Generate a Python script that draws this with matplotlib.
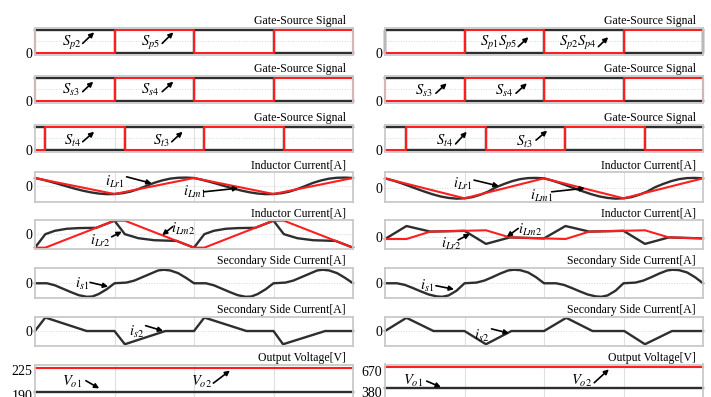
import matplotlib
matplotlib.use('Agg')
from matplotlib import pyplot as plt

plt.rcParams['font.family'] = ['Liberation Serif', 'DejaVu Serif']
plt.rcParams['mathtext.fontset'] = 'stix'

PRETO = '#2e2e2e'
VERMELHO = '#ff1e1e'
CINZA = '#c9c9c9'

# ---------------- DADOS ----------------
# sinais de gate, 0/1
gate_t = [0, 0, 1, 1, 2, 2, 3, 3, 4, 4]
sp2_L = [1, 1, 1, 0, 0, 1, 1, 0, 0, 0]
sp5_L = [1, 0, 0, 1, 1, 0, 0, 1, 1, 0]
sp15_R = [0, 0, 0, 1, 1, 0, 0, 1, 1, 1]
sp24_R = [0, 1, 1, 0, 0, 1, 1, 0, 0, 1]
ss3 = [1, 1, 1, 0, 0, 1, 1, 0, 0, 0]
ss4 = [1, 0, 0, 1, 1, 0, 0, 1, 1, 0]

st_t_L = [0, 0.13, 0.13, 1.13, 1.13, 2.13, 2.13, 3.13, 3.13, 4]
st_t_R = [0, 0.27, 0.27, 1.27, 1.27, 2.27, 2.27, 3.27, 3.27, 4]
st3 = [1, 1, 0, 0, 1, 1, 0, 0, 1, 1]
st4 = [0, 0, 1, 1, 0, 0, 1, 1, 0, 0]

# corrente de magnetização / ressonante (primário)
ilm1_t = [0, 1, 2, 3, 4]
ilm1_L = [1, -1, 1, -1, 1]
ilm1_R = [1.25, -1.25, 1.25, -1.25, 1.25]
ilr1_t = [0, 0.1, 0.2, 0.3, 0.4, 0.5, 0.6, 0.7, 0.8, 0.9, 1.0,
          1.1, 1.2, 1.3, 1.4, 1.5, 1.6, 1.7, 1.8, 1.9, 2.0,
          2.1, 2.2, 2.3, 2.4, 2.5, 2.6, 2.7, 2.8, 2.9, 3.0,
          3.1, 3.2, 3.3, 3.4, 3.5, 3.6, 3.7, 3.8, 3.9, 4.0]
ilr1_L = [1.0, 0.78, 0.52, 0.24, -0.05, -0.33, -0.58, -0.79, -0.94, -1.02, -1.0,
          -0.9, -0.7, -0.38, 0.0, 0.4, 0.7, 0.92, 1.03, 1.05, 1.0,
          0.78, 0.52, 0.24, -0.05, -0.33, -0.58, -0.79, -0.94, -1.02, -1.0,
          -0.9, -0.7, -0.38, 0.0, 0.4, 0.7, 0.92, 1.03, 1.05, 1.0]
ilr1_R = [1.25, 0.98, 0.66, 0.3, -0.07, -0.42, -0.75, -1.02, -1.2, -1.29, -1.25,
          -1.1, -0.8, -0.4, 0.15, 0.55, 0.9, 1.15, 1.28, 1.3, 1.25,
          0.98, 0.66, 0.3, -0.07, -0.42, -0.75, -1.02, -1.2, -1.29, -1.25,
          -1.1, -0.8, -0.4, 0.15, 0.55, 0.9, 1.15, 1.28, 1.3, 1.25]

# lado 2
ilm2_t_L = [0, 0.13, 1.0, 1.13, 2.0, 2.13, 3.0, 3.13, 4.0]
ilm2_L = [-1, -1, 1, 1, -1, -1, 1, 1, -1]
ilr2_t_L = [0, 0.13, 0.25, 0.4, 0.55, 0.77, 1.0, 1.13, 1.3, 1.5, 1.78, 2.0,
            2.13, 2.25, 2.4, 2.55, 2.77, 3.0, 3.13, 3.3, 3.5, 3.78, 4.0]
ilr2_L = [-1, 0.0, 0.25, 0.4, 0.45, 0.47, 1.0, 0.0, -0.3, -0.45, -0.5, -1.0,
          0.0, 0.25, 0.4, 0.45, 0.47, 1.0, 0.0, -0.3, -0.45, -0.5, -1.0]
ilm2_t_R = [0, 0.27, 0.57, 1.27, 1.57, 2.27, 2.57, 3.27, 3.57, 4.0]
ilm2_R = [-0.3, -0.3, 0.66, 0.83, -0.09, -0.3, 0.66, 0.83, -0.09, -0.22]
ilr2_t_R = [0, 0.27, 0.57, 1.0, 1.27, 1.57, 2.0, 2.27, 2.57, 3.0, 3.27, 3.57, 4.0]
ilr2_R = [-0.3, 1.38, 0.66, 0.76, -0.93, -0.09, -0.22, 1.38, 0.66, 0.76, -0.93, -0.09, -0.22]

# secundário
is1_t = [0, 0.15, 0.25, 0.35, 0.45, 0.55, 0.65, 0.72, 0.8, 0.9, 1.0,
         1.15, 1.25, 1.35, 1.45, 1.55, 1.62, 1.7, 1.8, 1.9, 2.0,
         2.15, 2.25, 2.35, 2.45, 2.55, 2.65, 2.72, 2.8, 2.9, 3.0,
         3.15, 3.25, 3.35, 3.45, 3.55, 3.62, 3.7, 3.8, 3.9, 4.0]
is1_L = [0, 0, -0.15, -0.4, -0.65, -0.88, -1.0, -0.98, -0.8, -0.45, 0,
         0.05, 0.2, 0.45, 0.7, 0.95, 1.0, 0.95, 0.75, 0.4, 0,
         0, -0.15, -0.4, -0.65, -0.88, -1.0, -0.98, -0.8, -0.45, 0,
         0.05, 0.2, 0.45, 0.7, 0.95, 1.0, 0.95, 0.75, 0.4, 0]
is1_R = [0, 0, -0.12, -0.35, -0.6, -0.83, -0.97, -1.0, -0.9, -0.55, 0,
         0.05, 0.2, 0.45, 0.72, 0.95, 1.0, 0.97, 0.8, 0.45, 0,
         0, -0.12, -0.35, -0.6, -0.83, -0.97, -1.0, -0.9, -0.55, 0,
         0.05, 0.2, 0.45, 0.72, 0.95, 1.0, 0.97, 0.8, 0.45, 0]
is2_t_L = [0, 0.13, 0.65, 1.0, 1.13, 1.64, 2.0, 2.13, 2.66, 3.0, 3.12, 3.65, 4.0]
is2_L = [0, 1.0, 0, 0, -0.98, 0, 0, 1.0, 0, 0, -0.98, 0, 0]
is2_t_R = [0, 0.27, 0.61, 1.0, 1.27, 1.59, 2.0, 2.28, 2.61, 3.01, 3.27, 3.61, 4.0]
is2_R = [0, 0.98, 0, 0, -0.98, 0, 0, 0.98, 0, 0, -0.98, 0, 0]

# tensão de saída
vo_t = [0, 4]
vo1_L = [193.5, 193.5]
vo2_L = [228, 228]
vo1_R = [433, 433]
vo2_R = [712, 712]
vo_ticks_L = [190, 225]
vo_ticks_R = [380, 670]

# ---------------- LAYOUT ----------------
W, H = 711, 397
COLS = [35, 385]
LARG = 318
ROWS = [(28, 55), (76, 103), (125, 152), (172, 202),
        (220, 249), (268, 298), (317, 346), (364.5, 405)]

fig = plt.figure(figsize=(W / 100, H / 100), dpi=100)


def criaEixo(col, lin, titulo, ylim, yticks=(0,), ygrid=None):
    topo, base = ROWS[lin]
    ax = fig.add_axes([COLS[col] / W, 1 - base / H, LARG / W, (base - topo) / H])
    ax.set_xlim(0, 4)
    ax.set_ylim(*ylim)
    ax.set_xticks([1, 2, 3])
    ax.set_xticklabels([])
    ax.set_yticks(list(yticks))
    ax.set_yticklabels([str(v) for v in yticks])
    ax.tick_params(length=0, pad=2, labelsize=10)
    ax.grid(axis='x', color='#e0e0e0', lw=0.8)
    if ygrid is not None:
        ax.axhline(ygrid, color='#d8d8d8', lw=0.7, ls=':', zorder=0)
    for s in ax.spines.values():
        s.set_color(CINZA)
        s.set_linewidth(1.3)
    ax.text(1 - 7 / LARG, 1 + 4 / (base - topo), titulo, transform=ax.transAxes,
            ha='right', va='baseline', fontsize=8.5)
    return ax


def seta(ax, texto, ptexto, cauda, cabeca):
    ax.text(ptexto[0], ptexto[1], texto, transform=ax.transAxes,
            ha='center', va='center', fontsize=10.5)
    ax.annotate('', xy=cabeca, xytext=cauda, xycoords='axes fraction',
                textcoords='axes fraction',
                arrowprops=dict(arrowstyle='-|>', color='black', lw=1.2,
                                mutation_scale=7, shrinkA=0, shrinkB=0))


def linha(ax, t, y, cor):
    lw = 1.7 if cor == PRETO else 1.5
    ax.plot(t, y, color=cor, lw=lw, solid_joinstyle='round', clip_on=False)


GATE = 'Gate-Source Signal'
IND = 'Inductor Current[A]'
SEC = 'Secondary Side Current[A]'
OUT = 'Output Voltage[V]'
GLIM = (-0.1, 1.08)

# ---- coluna esquerda ----
ax = criaEixo(0, 0, GATE, GLIM, ygrid=0.5)
linha(ax, gate_t, sp2_L, PRETO)
linha(ax, gate_t, sp5_L, VERMELHO)
seta(ax, r'$S_{\mathit{p2}}$', (0.116, 0.46), (0.150, 0.43), (0.186, 0.84))
seta(ax, r'$S_{\mathit{p5}}$', (0.362, 0.46), (0.400, 0.43), (0.435, 0.84))

ax = criaEixo(0, 1, GATE, GLIM, ygrid=0.5)
linha(ax, gate_t, ss3, PRETO)
linha(ax, gate_t, ss4, VERMELHO)
seta(ax, r'$S_{\mathit{s3}}$', (0.113, 0.49), (0.150, 0.42), (0.183, 0.79))
seta(ax, r'$S_{\mathit{s4}}$', (0.362, 0.49), (0.400, 0.42), (0.435, 0.79))

ax = criaEixo(0, 2, GATE, GLIM, ygrid=0.5)
linha(ax, st_t_L, st3, PRETO)
linha(ax, st_t_L, st4, VERMELHO)
seta(ax, r'$S_{\mathit{t4}}$', (0.118, 0.42), (0.150, 0.38), (0.186, 0.75))
seta(ax, r'$S_{\mathit{t3}}$', (0.396, 0.40), (0.430, 0.38), (0.464, 0.75))

ax = criaEixo(0, 3, IND, (-2.0, 1.75), ygrid=0)
linha(ax, ilr1_t, ilr1_L, PRETO)
linha(ax, ilm1_t, ilm1_L, VERMELHO)
seta(ax, r'$i_{\mathit{Lr1}}$', (0.252, 0.66), (0.288, 0.84), (0.367, 0.62))
seta(ax, r'$i_{\mathit{Lm1}}$', (0.503, 0.32), (0.531, 0.34), (0.639, 0.46))

ax = criaEixo(0, 4, IND, (-1.1, 1.05), ygrid=0)
linha(ax, ilr2_t_L, ilr2_L, PRETO)
linha(ax, ilm2_t_L, ilm2_L, VERMELHO)
seta(ax, r'$i_{\mathit{Lr2}}$', (0.204, 0.29), (0.241, 0.42), (0.273, 0.60))
seta(ax, r'$i_{\mathit{Lm2}}$', (0.464, 0.69), (0.433, 0.77), (0.400, 0.48))

ax = criaEixo(0, 5, SEC, (-1.09, 1.13), ygrid=0)
linha(ax, is1_t, is1_L, PRETO)
seta(ax, r'$i_{\mathit{s1}}$', (0.147, 0.47), (0.173, 0.52), (0.230, 0.38))

ax = criaEixo(0, 6, SEC, (-1.11, 1.04), ygrid=0)
linha(ax, is2_t_L, is2_L, PRETO)
seta(ax, r'$i_{\mathit{s2}}$', (0.318, 0.50), (0.348, 0.70), (0.403, 0.52))

ax = criaEixo(0, 7, OUT, (175.3, 233.6), yticks=vo_ticks_L)
linha(ax, vo_t, vo1_L, PRETO)
linha(ax, vo_t, vo2_L, VERMELHO)
seta(ax, r'$V_{\mathit{o1}}$', (0.118, 0.56), (0.160, 0.60), (0.202, 0.41))
seta(ax, r'$V_{\mathit{o2}}$', (0.524, 0.57), (0.561, 0.54), (0.613, 0.85))

# ---- coluna direita ----
ax = criaEixo(1, 0, GATE, GLIM, ygrid=0.5)
linha(ax, gate_t, sp24_R, PRETO)
linha(ax, gate_t, sp15_R, VERMELHO)
seta(ax, r'$S_{\mathit{p1}}S_{\mathit{p5}}$', (0.358, 0.43), (0.419, 0.31), (0.451, 0.66))
seta(ax, r'$S_{\mathit{p2}}S_{\mathit{p4}}$', (0.606, 0.43), (0.671, 0.31), (0.702, 0.66))

ax = criaEixo(1, 1, GATE, GLIM, ygrid=0.5)
linha(ax, gate_t, ss3, PRETO)
linha(ax, gate_t, ss4, VERMELHO)
seta(ax, r'$S_{\mathit{s3}}$', (0.123, 0.46), (0.160, 0.36), (0.194, 0.73))
seta(ax, r'$S_{\mathit{s4}}$', (0.374, 0.46), (0.412, 0.36), (0.446, 0.73))

ax = criaEixo(1, 2, GATE, GLIM, ygrid=0.5)
linha(ax, st_t_R, st3, PRETO)
linha(ax, st_t_R, st4, VERMELHO)
seta(ax, r'$S_{\mathit{t4}}$', (0.187, 0.42), (0.222, 0.30), (0.257, 0.75))
seta(ax, r'$S_{\mathit{t3}}$', (0.438, 0.36), (0.475, 0.44), (0.510, 0.79))

ax = criaEixo(1, 3, IND, (-1.71, 2.04), ygrid=0)
linha(ax, ilr1_t, ilr1_R, PRETO)
linha(ax, ilm1_t, ilm1_R, VERMELHO)
seta(ax, r'$i_{\mathit{Lr1}}$', (0.246, 0.60), (0.280, 0.73), (0.358, 0.53))
seta(ax, r'$i_{\mathit{Lm1}}$', (0.493, 0.21), (0.524, 0.34), (0.629, 0.46))

ax = criaEixo(1, 4, IND, (-1.59, 2.16), ygrid=0)
linha(ax, ilr2_t_R, ilr2_R, PRETO)
linha(ax, ilm2_t_R, ilm2_R, VERMELHO)
seta(ax, r'$i_{\mathit{Lr2}}$', (0.210, 0.18), (0.230, 0.31), (0.267, 0.52))
seta(ax, r'$i_{\mathit{Lm2}}$', (0.456, 0.66), (0.419, 0.71), (0.383, 0.42))

ax = criaEixo(1, 5, SEC, (-1.09, 1.13), ygrid=0)
linha(ax, is1_t, is1_R, PRETO)
seta(ax, r'$i_{\mathit{s1}}$', (0.131, 0.40), (0.160, 0.41), (0.217, 0.29))

ax = criaEixo(1, 6, SEC, (-1.11, 1.04), ygrid=0)
linha(ax, is2_t_R, is2_R, PRETO)
seta(ax, r'$i_{\mathit{s2}}$', (0.304, 0.36), (0.335, 0.59), (0.390, 0.44))

ax = criaEixo(1, 7, OUT, (211, 750), yticks=vo_ticks_R)
linha(ax, vo_t, vo1_R, PRETO)
linha(ax, vo_t, vo2_R, VERMELHO)
seta(ax, r'$V_{\mathit{o1}}$', (0.089, 0.60), (0.131, 0.59), (0.176, 0.44))
seta(ax, r'$V_{\mathit{o2}}$', (0.619, 0.60), (0.658, 0.55), (0.704, 0.88))

fig.savefig('out.png', dpi=100)
